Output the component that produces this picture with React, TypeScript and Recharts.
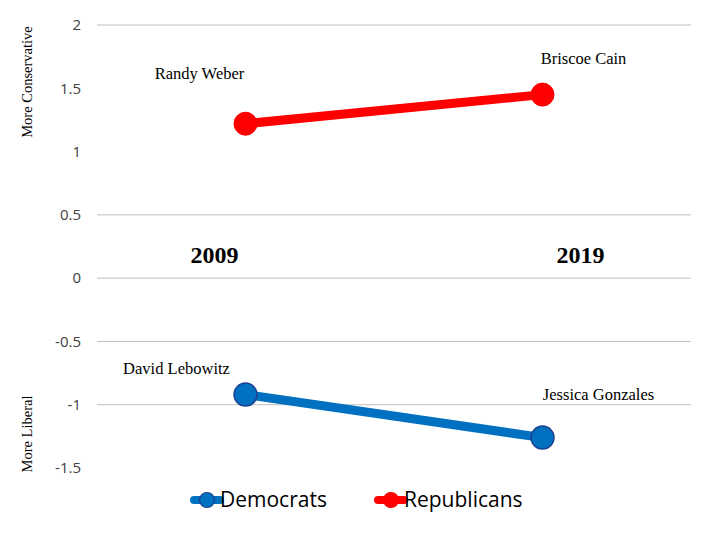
import React from "react";
import {
  LineChart,
  Line,
  XAxis,
  YAxis,
  ReferenceLine,
  ReferenceDot,
  LabelList,
  Legend,
} from "recharts";

const years = ["2009", "2019"];
const democrats = [-0.92, -1.26];
const republicans = [1.22, 1.45];
const demNames = ["David Lebowitz", "Jessica Gonzales"];
const repNames = ["Randy Weber", "Briscoe Cain"];
const yTicks = [-1.5, -1, -0.5, 0, 0.5, 1, 1.5, 2];
const gridValues = [2, 0.5, 0, -0.5, -1];

const data = years.map((y, i) => ({
  year: y,
  Democrats: democrats[i],
  Republicans: republicans[i],
}));

const BLUE = "#0070C0";
const RED = "#FF0000";

const repOffsets = [
  { dx: -46, dy: -45 },
  { dx: 41, dy: -31 },
];
const demOffsets = [
  { dx: -69, dy: -21 },
  { dx: 56, dy: -38 },
];
const yearOffsets = [
  { dx: -31, dy: -15 },
  { dx: 38, dy: -15 },
];

const makeNameLabel = (names: string[], offsets: { dx: number; dy: number }[]) =>
  (props: any) => {
    const { x, y, index } = props;
    const o = offsets[index];
    return (
      <text
        x={x + o.dx}
        y={y + o.dy}
        textAnchor="middle"
        fontFamily="Liberation Serif"
        fontSize={16.5}
        fill="#000"
      >
        {names[index]}
      </text>
    );
  };

const LegendContent = () => {
  const items = [
    { name: "Democrats", color: BLUE, stroke: "#1F3F8F" },
    { name: "Republicans", color: RED, stroke: RED },
  ];
  return (
    <svg width={720} height={40}>
      {items.map((it, i) => {
        const x0 = i === 0 ? 194 : 378;
        return (
          <g key={it.name}>
            <line x1={x0} y1={20} x2={x0 + 26} y2={20} stroke={it.color} strokeWidth={8} strokeLinecap="round" />
            <circle cx={x0 + 13} cy={20} r={7.5} fill={it.color} stroke={it.stroke} strokeWidth={1.2} />
            <text x={x0 + 26} y={27} fontFamily="Open Sans" fontSize={21} fill="#000">
              {it.name}
            </text>
          </g>
        );
      })}
    </svg>
  );
};

export default function App() {
  return (
    <div style={{ position: "absolute", left: 0, top: 0, width: 720, height: 540, background: "#fff" }}>
      <LineChart
        width={720}
        height={540}
        data={data}
        margin={{ top: 25, right: 29, bottom: 32, left: 0 }}
      >
        <XAxis dataKey="year" hide scale="band" />
        <YAxis
          domain={[-1.5, 2]}
          ticks={yTicks}
          width={97}
          axisLine={false}
          tickLine={false}
          tickMargin={10}
          tick={{ fill: "#404040", fontSize: 15, fontFamily: "Open Sans" }}
          interval={0}
        />
        {gridValues.map((v) => (
          <ReferenceLine key={v} y={v} stroke="#BFBFBF" strokeWidth={1} />
        ))}
        {years.map((yr, i) => (
          <ReferenceDot
            key={yr}
            x={yr}
            y={0}
            r={0}
            fill="none"
            stroke="none"
            label={(p: any) => (
              <text
                x={p.viewBox.x + yearOffsets[i].dx}
                y={p.viewBox.y + yearOffsets[i].dy}
                textAnchor="middle"
                fontFamily="Liberation Serif"
                fontWeight="bold"
                fontSize={24}
                fill="#000"
              >
                {yr}
              </text>
            )}
          />
        ))}
        <Line
          dataKey="Democrats"
          stroke={BLUE}
          strokeWidth={9}
          dot={{ r: 11.5, fill: BLUE, stroke: "#1F3F8F", strokeWidth: 1.5 }}
          isAnimationActive={false}
        >
          <LabelList dataKey="Democrats" content={makeNameLabel(demNames, demOffsets)} />
        </Line>
        <Line
          dataKey="Republicans"
          stroke={RED}
          strokeWidth={9}
          dot={{ r: 11.5, fill: RED, stroke: RED, strokeWidth: 1 }}
          isAnimationActive={false}
        >
          <LabelList dataKey="Republicans" content={makeNameLabel(repNames, repOffsets)} />
        </Line>
        <Legend
          verticalAlign="bottom"
          height={40}
          content={<LegendContent />}
          wrapperStyle={{ left: 0, width: 720, bottom: 20 }}
        />
      </LineChart>
      <div
        style={{
          position: "absolute",
          left: 27,
          top: 82,
          transform: "translate(-50%, -50%) rotate(-90deg)",
          fontFamily: "Liberation Serif",
          fontSize: 14.5,
          whiteSpace: "nowrap",
          color: "#000",
        }}
      >
        More Conservative
      </div>
      <div
        style={{
          position: "absolute",
          left: 27,
          top: 434,
          transform: "translate(-50%, -50%) rotate(-90deg)",
          fontFamily: "Liberation Serif",
          fontSize: 14.5,
          whiteSpace: "nowrap",
          color: "#000",
        }}
      >
        More Liberal
      </div>
    </div>
  );
}
